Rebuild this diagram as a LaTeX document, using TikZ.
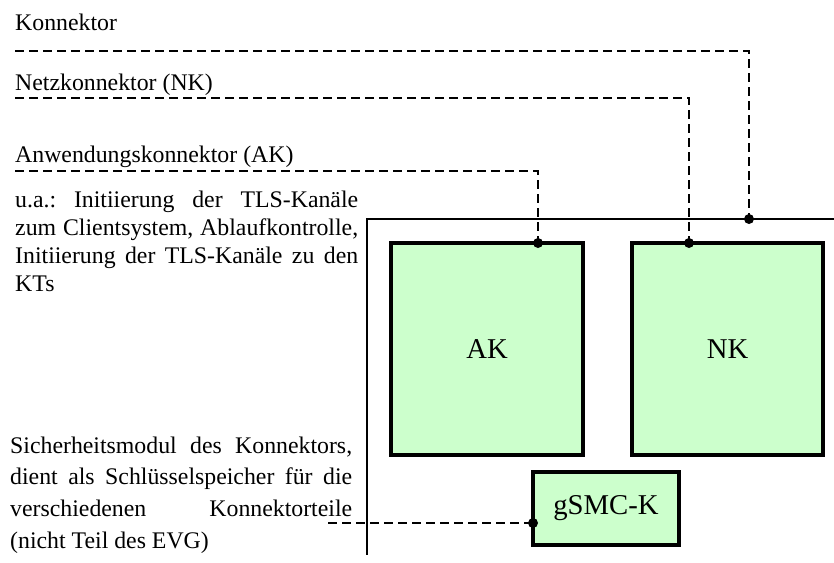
\documentclass[tikz,border=0pt]{standalone}
\usepackage{fontspec}
\setmainfont{Liberation Serif}
\frenchspacing
\definecolor{boxgreen}{RGB}{204,255,204}
\tikzset{
  lbl/.style={anchor=base west, inner sep=0pt, font=\fontsize{23.8}{28}\selectfont},
  para/.style={anchor=base west, inner sep=0pt},
  part/.style={draw=black, fill=boxgreen, line width=3.4pt, inner sep=0pt,
               font=\fontsize{28.7}{34}\selectfont},
  dashline/.style={line width=2pt, dash pattern=on 8.5pt off 5.5pt},
  outerline/.style={line width=2.2pt},
  dot/.style={fill=black}
}
\begin{document}
\begin{tikzpicture}[x=1pt,y=-1pt]
\useasboundingbox (0,0) rectangle (834,562);

% top labels
\node[lbl] (lkon) at (15,30) {Konnektor};
\node[lbl] (lnk)  at (15,90) {Netzkonnektor (NK)};
\node[lbl] (lak)  at (15,162) {Anwendungskonnektor (AK)};

% description paragraphs
\node[para] (pak) at (15,207) {\vtop{\hsize=343pt\parindent=0pt\fontsize{23.8}{28.3}\selectfont
  \makebox[\hsize][s]{u.a.: Initiierung der TLS-Kanäle}\par
  \makebox[\hsize][s]{zum Clientsystem, Ablaufkontrolle,}\par
  \makebox[\hsize][s]{Initiierung der TLS-Kanäle zu den}\par
  KTs\par}};
\node[para] (psm) at (10,453) {\vtop{\hsize=342pt\parindent=0pt\fontsize{23.8}{31.7}\selectfont
  \makebox[\hsize][s]{Sicherheitsmodul des Konnektors,}\par
  \makebox[\hsize][s]{dient als Schlüsselspeicher für die}\par
  \makebox[\hsize][s]{verschiedenen Konnektorteile}\par
  (nicht Teil des EVG)\par}};

% outer connector boundary
\coordinate (ocr) at (836,219);
\coordinate (ocl) at (367,219);
\coordinate (obl) at (367,555);
\draw[outerline] (ocr) -- (ocl) -- (obl);

% parts
\node[part, minimum width=192pt, minimum height=212pt] (ak) at (487,349) {AK};
\node[part, minimum width=191pt, minimum height=212pt] (nk) at (727.5,349) {NK};
\node[part, minimum width=146pt, minimum height=73pt] (gsmc) at (606,508.5) {gSMC-K};

% connection points
\coordinate (konin) at (749,219);
\coordinate (nkin) at (689,243);
\coordinate (akin) at (538,243);
\coordinate (gsin) at (533,523);

% leader start points
\coordinate (s1) at (15,51);
\coordinate (s2) at (15,98);
\coordinate (s3) at (15,171);
\coordinate (s4) at (328,523);

\draw[dashline] (s1) -| (konin);
\draw[dashline] (s2) -| (nkin);
\draw[dashline] (s3) -| (akin);
\draw[dashline] (s4) -- (gsin);

\fill[dot] (konin) circle (5pt);
\fill[dot] (nkin) circle (5pt);
\fill[dot] (akin) circle (5pt);
\fill[dot] (gsin) circle (5pt);
\end{tikzpicture}
\end{document}
